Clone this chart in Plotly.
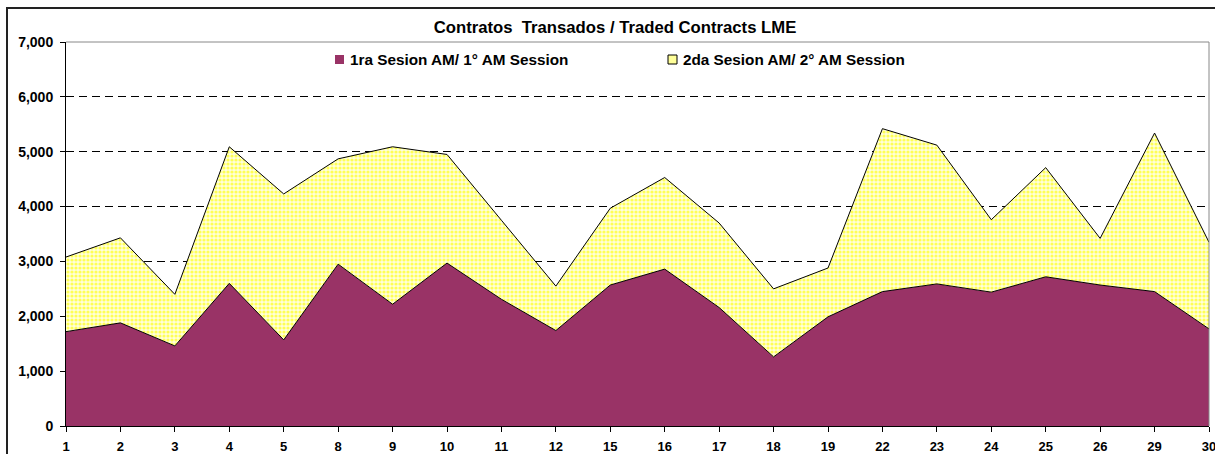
import plotly.graph_objects as go

# ---- data ----
days = ['1', '2', '3', '4', '5', '8', '9', '10', '11', '12', '15', '16',
        '17', '18', '19', '22', '23', '24', '25', '26', '29', '30']
session1 = [1720, 1880, 1460, 2600, 1570, 2950, 2220, 2970, 2310, 1740, 2570,
            2860, 2160, 1260, 1990, 2450, 2590, 2440, 2720, 2570, 2450, 1770]
session2 = [1360, 1550, 940, 2490, 2660, 1920, 2870, 1980, 1440, 810, 1400,
            1670, 1540, 1240, 890, 2970, 2530, 1320, 1990, 850, 2890, 1580]
y_ticks = [0, 1000, 2000, 3000, 4000, 5000, 6000, 7000]
name1 = '1ra Sesion AM/ 1° AM Session'
name2 = '2da Sesion AM/ 2° AM Session'
title = 'Contratos  Transados / Traded Contracts LME'

W, H = 1215, 454
L, R, T, B = 66, 6, 42, 28
PW, PH = W - L - R, H - T - B

def px(x):
    return (x - L) / PW

def py(y):
    return (H - B - y) / PH

FONT = 'Liberation Sans, Arial, sans-serif'
PLUM = '#993366'

fig = go.Figure()
fig.add_trace(go.Scatter(
    x=days, y=session1, name=name1, mode='lines', stackgroup='s',
    line=dict(color='black', width=1), fillcolor=PLUM, showlegend=False))
fig.add_trace(go.Scatter(
    x=days, y=session2, name=name2, mode='lines', stackgroup='s',
    line=dict(color='black', width=1), fillcolor='#FFFFD6',
    fillpattern=dict(shape='.', bgcolor='#FFFFDC', fgcolor='#FFFF55',
                     size=4, solidity=0.5, fillmode='replace'),
    showlegend=False))

shapes = [
    # outer chart frame
    dict(type='rect', xref='paper', yref='paper', x0=px(7), x1=px(1218),
         y0=py(8), y1=py(460), line=dict(color='#222', width=2), layer='above'),
    # plot area top & right border
    dict(type='line', xref='paper', yref='paper', x0=0, x1=1, y0=1, y1=1,
         line=dict(color='#888', width=1), layer='above'),
    dict(type='line', xref='paper', yref='paper', x0=1, x1=1, y0=0, y1=1,
         line=dict(color='#888', width=1), layer='above'),
    # legend keys
    dict(type='rect', xref='paper', yref='paper', x0=px(335), x1=px(344),
         y0=py(55), y1=py(64), fillcolor=PLUM, line=dict(width=0)),
    dict(type='rect', xref='paper', yref='paper', x0=px(668), x1=px(677),
         y0=py(55), y1=py(64), fillcolor='#FFFF99',
         line=dict(color='black', width=1)),
]

annotations = [
    dict(text='<b>' + name1 + '</b>', xref='paper', yref='paper',
         x=px(348), y=py(59.5), xanchor='left', yanchor='middle',
         showarrow=False, font=dict(family=FONT, size=15.3, color='black')),
    dict(text='<b>' + name2 + '</b>', xref='paper', yref='paper',
         x=px(681), y=py(59.5), xanchor='left', yanchor='middle',
         showarrow=False, font=dict(family=FONT, size=15.3, color='black')),
]

fig.update_layout(
    width=W, height=H,
    margin=dict(l=L, r=R, t=T, b=B),
    paper_bgcolor='white', plot_bgcolor='white',
    title=dict(text='<b>' + title + '</b>', x=615 / W, y=1 - 27 / H,
               xanchor='center', yanchor='middle', xref='container',
               font=dict(family=FONT, size=16.7, color='black')),
    shapes=shapes, annotations=annotations,
    showlegend=False,
    xaxis=dict(type='category', range=[0, len(days) - 1], dtick=1,
               automargin=False, ticklabelstandoff=3,
               showline=True, linecolor='black', linewidth=1,
               ticks='outside', ticklen=5, tickcolor='black',
               showgrid=False, zeroline=False,
               tickfont=dict(family=FONT, size=13, color='black', weight='bold')),
    yaxis=dict(range=[0, 7000], tickvals=y_ticks, tickformat=',d',
               automargin=False, ticklabelstandoff=4,
               showline=True, linecolor='black', linewidth=1,
               ticks='outside', ticklen=5, tickcolor='black',
               showgrid=True, gridcolor='black', gridwidth=1, griddash='8px,5px',
               zeroline=False,
               tickfont=dict(family=FONT, size=14, color='black', weight='bold')),
)

fig.write_html('out.html')
